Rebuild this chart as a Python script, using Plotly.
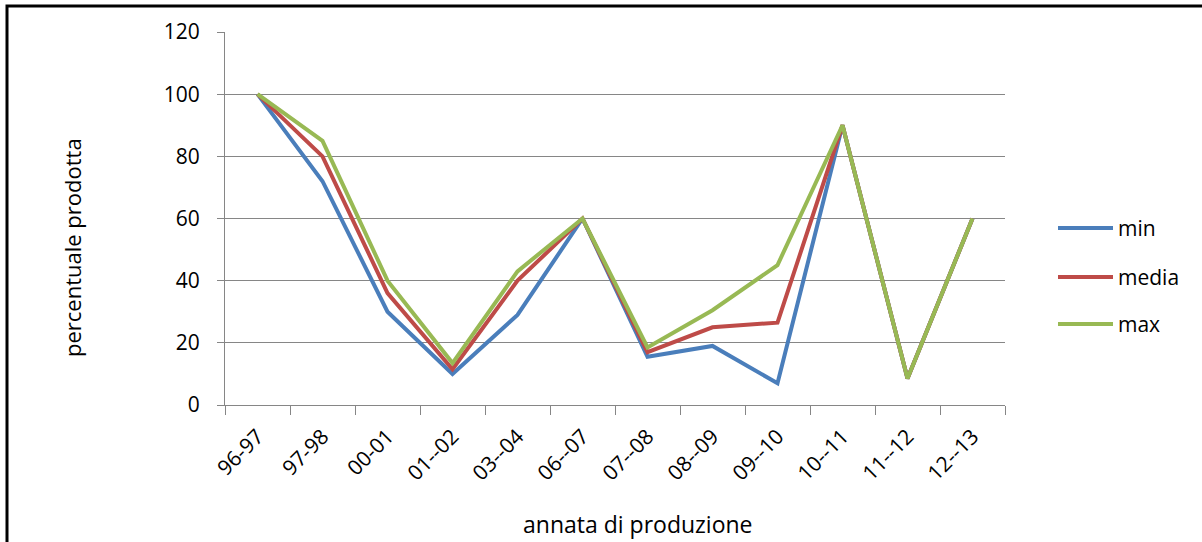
import plotly.graph_objects as go

# Categories: production seasons
annate = ["96-97", "97-98", "00-01", "01--02", "03--04", "06--07",
          "07--08", "08--09", "09--10", "10--11", "11--12", "12--13"]

# Percentage produced per season
val_min = [100, 72, 30, 10, 29, 60, 15.5, 19, 7, 90, 8.5, 60]
val_media = [100, 80, 36, 11.5, 40, 60, 17, 25, 26.5, 90, 8.5, 60]
val_max = [100, 85, 40, 13.5, 43, 60, 18.5, 30.5, 45, 90, 8.5, 60]

y_ticks = [0, 20, 40, 60, 80, 100, 120]

series = [("min", val_min, "#4a7ebb"),
          ("media", val_media, "#be4b48"),
          ("max", val_max, "#98b954")]

FONT = "Open Sans"
GRAY = "#868686"

W, H = 1202, 542
L, R, T, B = 225, 197, 32, 137
pw, ph = W - L - R, H - T - B


def px_x(x):
    return (x - L) / pw


def px_y(y):
    return (H - B - y) / ph


fig = go.Figure()
for name, vals, color in series:
    fig.add_trace(go.Scatter(x=annate, y=vals, name=name, mode="lines",
                             line=dict(color=color, width=4),
                             showlegend=False))

fig.update_layout(
    width=W, height=H,
    margin=dict(l=L, r=R, t=T, b=B),
    paper_bgcolor="white", plot_bgcolor="white",
    font=dict(family=FONT, size=21, color="#000000"),
    xaxis=dict(
        type="category", tickangle=-45, tickson="boundaries",
        ticks="outside", ticklen=9, tickcolor=GRAY, tickwidth=1,
        showline=True, linecolor=GRAY, linewidth=1,
        showgrid=False, zeroline=False,
        tickfont=dict(family=FONT, size=21),
        ticklabelstandoff=10,
        range=[-0.5, 11.5],
    ),
    yaxis=dict(
        range=[0, 120], tickvals=y_ticks,
        ticks="outside", ticklen=7, tickcolor=GRAY,
        showline=True, linecolor=GRAY, linewidth=1,
        showgrid=True, gridcolor=GRAY, gridwidth=1,
        zeroline=False,
        tickfont=dict(family=FONT, size=21),
        ticklabelstandoff=13,
    ),
)

# Axis titles
fig.add_annotation(text="annata di produzione", xref="paper", yref="paper",
                   x=px_x(638), y=px_y(524), xanchor="center", yanchor="middle",
                   showarrow=False, font=dict(family=FONT, size=23))
fig.add_annotation(text="percentuale prodotta", xref="paper", yref="paper",
                   x=px_x(72), y=px_y(248), xanchor="center", yanchor="middle",
                   textangle=-90, showarrow=False,
                   font=dict(family=FONT, size=22))

# Legend: swatch line + label for each series
legend_rows = [228, 277, 324]
for (name, _, color), ly in zip(series, legend_rows):
    fig.add_shape(type="line", xref="paper", yref="paper",
                  x0=px_x(1058), x1=px_x(1113), y0=px_y(ly), y1=px_y(ly),
                  line=dict(color=color, width=4))
    fig.add_annotation(text=name, xref="paper", yref="paper",
                       x=px_x(1116), y=px_y(ly), xanchor="left", yanchor="middle",
                       showarrow=False, font=dict(family=FONT, size=21))

# Outer chart frame
fig.add_shape(type="rect", xref="paper", yref="paper",
              x0=px_x(7), x1=px_x(1215), y0=px_y(560), y1=px_y(6),
              line=dict(color="black", width=3), fillcolor="rgba(0,0,0,0)",
              layer="above")

fig.write_html("out.html")
